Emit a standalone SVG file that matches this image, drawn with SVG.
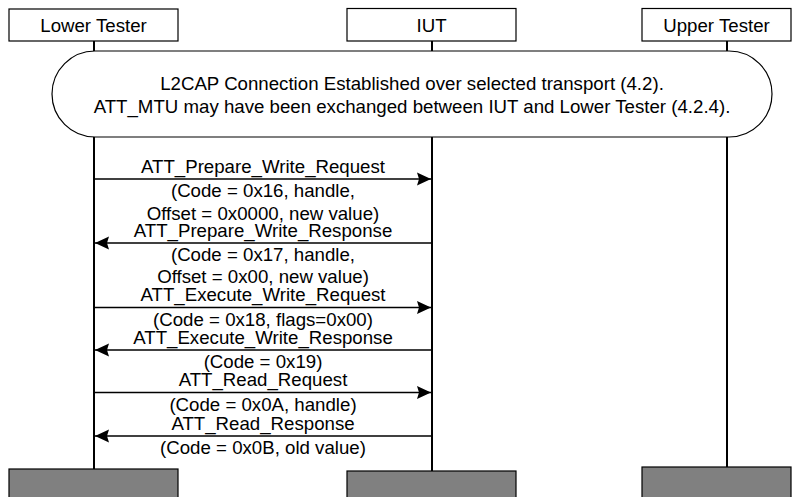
<svg xmlns="http://www.w3.org/2000/svg" width="801" height="497" viewBox="0 0 801 497">
<style>
text{font-family:"Liberation Sans",Arial,sans-serif;font-size:18.67px;fill:#000;text-anchor:middle}
.box{fill:#fff;stroke:#000;stroke-width:1.2}
.end{fill:#808080;stroke:#000;stroke-width:1.2}
.life{stroke:#000;stroke-width:2;fill:none}
.msg{stroke:#000;stroke-width:1.5;fill:none;marker-end:url(#ah)}
</style>
<defs>
<marker id="ah" viewBox="0 0 14 14" refX="14" refY="7" markerWidth="14" markerHeight="14" markerUnits="userSpaceOnUse" orient="auto">
<path d="M0,0.5 L14,7 L0,13.5 L2,7 Z" fill="#000"/>
</marker>
</defs>
<rect width="801" height="497" fill="#fff"/>
<g id="lifelines">
<path class="life" d="M94,41V51M94,137V469"/>
<path class="life" d="M432,41V51M432,137V471"/>
<path class="life" d="M727,41V51M727,137V467"/>
</g>
<g id="lower-tester">
<rect class="box" x="9" y="9" width="169" height="32"/>
<text x="93.5" y="32">Lower Tester</text>
<rect class="end" x="9" y="469" width="169" height="40"/>
</g>
<g id="iut">
<rect class="box" x="347" y="8.5" width="169" height="32.5"/>
<text x="431.5" y="32">IUT</text>
<rect class="end" x="347" y="471" width="169" height="40"/>
</g>
<g id="upper-tester">
<rect class="box" x="642" y="8.5" width="149" height="32.5"/>
<text x="716.5" y="32">Upper Tester</text>
<rect class="end" x="642" y="467" width="149" height="40"/>
</g>
<g id="connection">
<rect class="box" x="52" y="51" width="720" height="86" rx="43" ry="43"/>
<text x="412" y="90">L2CAP Connection Established over selected transport (4.2).</text>
<text x="412" y="112.5">ATT_MTU may have been exchanged between IUT and Lower Tester (4.2.4).</text>
</g>
<g id="connectors">
<line class="msg" x1="94" y1="179" x2="431" y2="179"/>
<line class="msg" x1="432" y1="243" x2="95" y2="243"/>
<line class="msg" x1="94" y1="307.5" x2="431" y2="307.5"/>
<line class="msg" x1="432" y1="350" x2="95" y2="350"/>
<line class="msg" x1="94" y1="392.5" x2="431" y2="392.5"/>
<line class="msg" x1="432" y1="436" x2="95" y2="436"/>
</g>
<g id="labels">
<text x="263" y="172.5">ATT_Prepare_Write_Request</text>
<text x="263" y="197">(Code = 0x16, handle,</text>
<text x="263" y="219.5">Offset = 0x0000, new value)</text>
<text x="263" y="236.5">ATT_Prepare_Write_Response</text>
<text x="263" y="261">(Code = 0x17, handle,</text>
<text x="263" y="283">Offset = 0x00, new value)</text>
<text x="263" y="301">ATT_Execute_Write_Request</text>
<text x="263" y="325.5">(Code = 0x18, flags=0x00)</text>
<text x="263" y="343.5">ATT_Execute_Write_Response</text>
<text x="263" y="367.5">(Code = 0x19)</text>
<text x="263" y="386">ATT_Read_Request</text>
<text x="263" y="410.5">(Code = 0x0A, handle)</text>
<text x="263" y="429.5">ATT_Read_Response</text>
<text x="263" y="453.5">(Code = 0x0B, old value)</text>
</g>
</svg>
